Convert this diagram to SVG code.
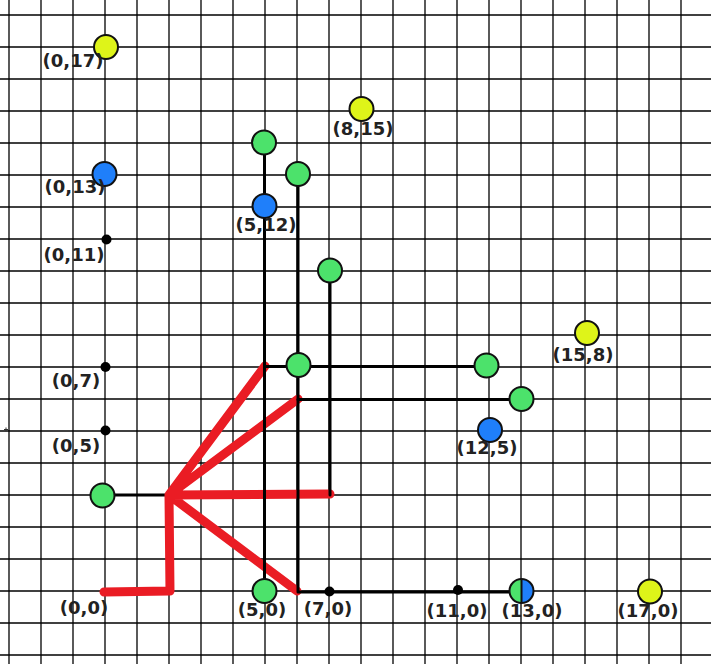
<svg xmlns="http://www.w3.org/2000/svg" width="711" height="664" viewBox="0 0 711 664">
<style>
.grid line{stroke:#000;stroke-width:1.3}
.blk{stroke:#000;stroke-width:3;fill:none;stroke-linecap:round;stroke-linejoin:round}
.red{stroke:#ea1c24;stroke-width:9;fill:none;stroke-linecap:round;stroke-linejoin:round}
.n{stroke:#111;stroke-width:2}
.g{fill:#4ce26b}
.b{fill:#1f7ffa}
.y{fill:#def419}
.d{fill:#000}
text{font-family:"DejaVu Sans","Liberation Sans",sans-serif;font-weight:bold;font-size:18px;fill:#222;text-anchor:middle}
</style>
<rect width="711" height="664" fill="#fff"/>
<g class="grid" id="grid">
<line x1="9" y1="0" x2="9" y2="664"/><line x1="41" y1="0" x2="41" y2="664"/><line x1="73" y1="0" x2="73" y2="664"/><line x1="105" y1="0" x2="105" y2="664"/><line x1="137" y1="0" x2="137" y2="664"/><line x1="169" y1="0" x2="169" y2="664"/><line x1="201" y1="0" x2="201" y2="664"/><line x1="233" y1="0" x2="233" y2="664"/><line x1="265" y1="0" x2="265" y2="664"/><line x1="297" y1="0" x2="297" y2="664"/><line x1="329" y1="0" x2="329" y2="664"/><line x1="361" y1="0" x2="361" y2="664"/><line x1="393" y1="0" x2="393" y2="664"/><line x1="425" y1="0" x2="425" y2="664"/><line x1="457" y1="0" x2="457" y2="664"/><line x1="489" y1="0" x2="489" y2="664"/><line x1="521" y1="0" x2="521" y2="664"/><line x1="553" y1="0" x2="553" y2="664"/><line x1="585" y1="0" x2="585" y2="664"/><line x1="617" y1="0" x2="617" y2="664"/><line x1="649" y1="0" x2="649" y2="664"/><line x1="681" y1="0" x2="681" y2="664"/>
<line x1="0" y1="15" x2="711" y2="15"/><line x1="0" y1="47" x2="711" y2="47"/><line x1="0" y1="79" x2="711" y2="79"/><line x1="0" y1="111" x2="711" y2="111"/><line x1="0" y1="143" x2="711" y2="143"/><line x1="0" y1="175" x2="711" y2="175"/><line x1="0" y1="207" x2="711" y2="207"/><line x1="0" y1="239" x2="711" y2="239"/><line x1="0" y1="271" x2="711" y2="271"/><line x1="0" y1="303" x2="711" y2="303"/><line x1="0" y1="335" x2="711" y2="335"/><line x1="0" y1="367" x2="711" y2="367"/><line x1="0" y1="399" x2="711" y2="399"/><line x1="0" y1="431" x2="711" y2="431"/><line x1="0" y1="463" x2="711" y2="463"/><line x1="0" y1="495" x2="711" y2="495"/><line x1="0" y1="527" x2="711" y2="527"/><line x1="0" y1="559" x2="711" y2="559"/><line x1="0" y1="591" x2="711" y2="591"/><line x1="0" y1="623" x2="711" y2="623"/><line x1="0" y1="655" x2="711" y2="655"/>
</g>
<path d="M4,429.5 H8 M6,427.5 V431.5" stroke="#333" stroke-width="1"/>
<g id="connectors">
<path class="blk" d="M103,495 H330"/>
<path class="red" d="M104,592 L170,591 L169,495 M169,495 L265,366 M169,495 L298,399 M169,495 L330,494 M169,495 L297,591"/>
<path class="blk" d="M264.5,143 V591"/>
<path class="blk" d="M298,175 V592 H521"/>
<path class="blk" d="M330,271 V495"/>
<path class="blk" d="M265,366.5 H487"/>
<path class="blk" d="M298,399.5 H521"/>
</g>
<g id="n0_17"><circle class="n y" cx="106" cy="47" r="12"/><text x="73" y="67">(0,17)</text></g>
<g id="n8_15"><circle class="n y" cx="361.5" cy="109" r="12"/><text x="363" y="135">(8,15)</text></g>
<g id="n0_13"><circle class="n b" cx="104.5" cy="174" r="12"/><text x="75" y="193">(0,13)</text></g>
<g id="n5_14"><circle class="n g" cx="264" cy="142.5" r="12"/></g>
<g id="n6_13"><circle class="n g" cx="298" cy="174" r="12"/></g>
<g id="n5_12"><circle class="n b" cx="264.5" cy="206" r="12"/><text x="266" y="231">(5,12)</text></g>
<g id="n0_11"><circle class="d" cx="106.5" cy="239.5" r="5"/><text x="74" y="261">(0,11)</text></g>
<g id="n7_10"><circle class="n g" cx="330" cy="270.5" r="12"/></g>
<g id="n15_8"><circle class="n y" cx="587" cy="333" r="12"/><text x="583" y="361">(15,8)</text></g>
<g id="n0_7"><circle class="d" cx="105.5" cy="367" r="5"/><text x="76" y="387">(0,7)</text></g>
<g id="n6_7"><circle class="n g" cx="298.5" cy="365" r="12"/></g>
<g id="n12_7"><circle class="n g" cx="486.5" cy="365.5" r="12"/></g>
<g id="n13_6"><circle class="n g" cx="521.5" cy="399" r="12"/></g>
<g id="n0_5"><circle class="d" cx="105.5" cy="430.5" r="5"/><text x="76" y="452">(0,5)</text></g>
<g id="n12_5"><circle class="n b" cx="490" cy="430" r="12"/><text x="487" y="454">(12,5)</text></g>
<g id="n0_3"><circle class="n g" cx="102.5" cy="495.5" r="12"/></g>
<g id="n0_0"><text x="84" y="614">(0,0)</text></g>
<g id="n5_0"><circle class="n g" cx="264.5" cy="591" r="12"/><text x="262" y="615.5">(5,0)</text></g>
<g id="n7_0"><circle class="d" cx="329.5" cy="591.5" r="5"/><text x="328" y="615">(7,0)</text></g>
<g id="n11_0"><circle class="d" cx="458" cy="590" r="5"/><text x="457" y="616.5">(11,0)</text></g>
<g id="n13_0"><path class="g" d="M521.5,579 A12,12 0 0 0 521.5,603 Z"/><path class="b" d="M521.5,579 A12,12 0 0 1 521.5,603 Z"/><circle cx="521.5" cy="591" r="12" fill="none" stroke="#111" stroke-width="2"/><line x1="521.5" y1="579" x2="521.5" y2="603" stroke="#111" stroke-width="2"/><text x="532" y="617">(13,0)</text></g>
<g id="n17_0"><circle class="n y" cx="650" cy="591.5" r="12"/><text x="648" y="617">(17,0)</text></g>
</svg>
